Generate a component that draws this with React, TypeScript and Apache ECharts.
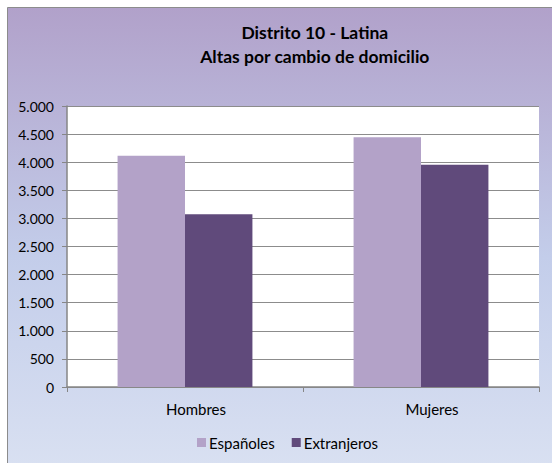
import React, { useEffect, useRef } from "react";
import * as echarts from "echarts";

const categories = ["Hombres", "Mujeres"];
const espanoles = [4115, 4445];
const extranjeros = [3075, 3955];
const seriesNames = ["Españoles", "Extranjeros"];
const titleLines = ["Distrito 10 - Latina", "Altas por cambio de domicilio"];

const fmt = (v: number) => String(v).replace(/\B(?=(\d{3})+(?!\d))/g, ".");

export default function App() {
  const ref = useRef<HTMLDivElement>(null);
  useEffect(() => {
    if (!ref.current) return;
    const chart = echarts.init(ref.current, undefined, { renderer: "svg" });
    const font = "Lato, 'Open Sans', sans-serif";
    chart.setOption({
      animation: false,
      backgroundColor: "#ffffff",
      graphic: [
        {
          type: "rect",
          z: -10,
          silent: true,
          shape: { x: 7.5, y: 7.5, width: 600, height: 500 },
          style: {
            fill: new echarts.graphic.LinearGradient(0, 0, 0, 1, [
              { offset: 0, color: "#B1A1CA" },
              { offset: 0.5, color: "#C3CDEA" },
              { offset: 1, color: "#DDE4F3" },
            ]),
            stroke: "#8C8C8C",
            lineWidth: 1,
          },
        },
        {
          type: "text",
          left: 200,
          top: 20,
          style: {
            text: titleLines.join("\n"),
            x: 267,
            fontFamily: font,
            fontSize: 17.5,
            fontWeight: "bold",
            lineHeight: 24,
            fill: "#000",
            textAlign: "center",
          },
        },
      ],
      grid: { left: 67, top: 106, right: 13, bottom: 76, backgroundColor: "#fff", show: true, borderWidth: 0 },
      legend: {
        data: seriesNames,
        left: 192,
        top: 430,
        icon: "rect",
        itemWidth: 9,
        itemHeight: 9,
        itemGap: 17,
        textStyle: { fontFamily: font, fontSize: 15, color: "#000", padding: [0, 0, 0, -2] },
      },
      xAxis: {
        type: "category",
        data: categories,
        axisLine: { lineStyle: { color: "#868686", width: 1.5 } },
        axisTick: { show: true, length: 5, lineStyle: { color: "#868686" } },
        axisLabel: { fontFamily: font, fontSize: 15, color: "#000", margin: 14, padding: [0, 0, 0, 22] },
      },
      yAxis: {
        type: "value",
        min: 0,
        max: 5000,
        interval: 500,
        axisLine: { show: true, lineStyle: { color: "#868686", width: 1.5 } },
        axisTick: { show: true, length: 5, lineStyle: { color: "#868686" } },
        axisLabel: { fontFamily: font, fontSize: 14, color: "#000", margin: 13, formatter: fmt },
        splitLine: { lineStyle: { color: "#8C8C8C", width: 1 } },
      },
      series: [
        {
          name: seriesNames[0],
          type: "bar",
          data: espanoles,
          barGap: "0%",
          barCategoryGap: "42.86%",
          itemStyle: { color: "#B3A2C8" },
        },
        {
          name: seriesNames[1],
          type: "bar",
          data: extranjeros,
          itemStyle: { color: "#604A7B" },
        },
      ],
    });
    return () => chart.dispose();
  }, []);
  return <div ref={ref} style={{ position: "absolute", left: 0, top: 0, width: 552, height: 463 }} />;
}
